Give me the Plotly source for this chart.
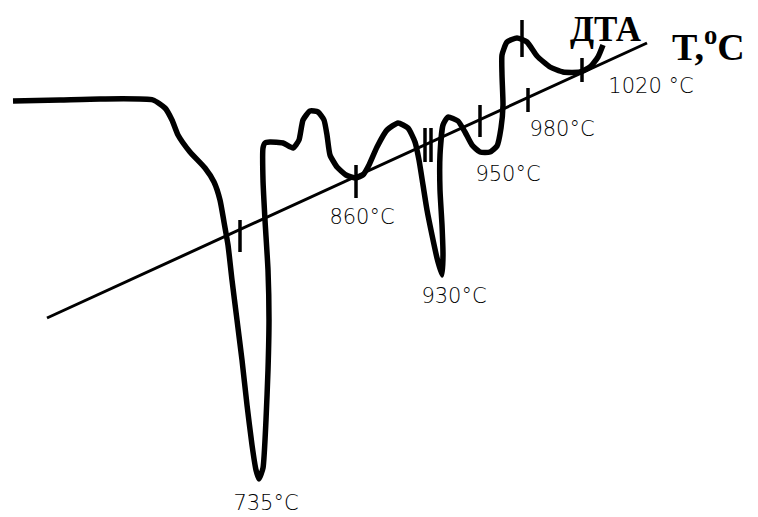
import plotly.graph_objects as go

# DTA curve (image pixel coordinates, y downwards)
curve_x = [13, 60, 100, 153, 165, 172, 178, 190, 205, 214, 220, 224, 228, 232, 237, 242, 247, 252, 256, 259,
           263, 266, 268, 269, 268, 265, 263, 263, 265, 270, 283, 293, 299, 303, 310, 318, 324, 327, 330, 337,
           346, 356, 363, 369, 377, 387, 398, 408, 415, 419, 423, 427, 432, 437, 442,
           443, 442, 440, 440, 443, 448, 458, 465, 472, 480, 490, 497, 501, 503, 502, 502, 507, 517, 527, 537,
           550, 563, 580, 590, 598, 603]
curve_y = [101, 100, 99, 100, 108, 120, 135, 152, 168, 182, 200, 222, 245, 280, 320, 360, 405, 445, 470, 479,
           468, 420, 370, 320, 270, 220, 180, 148, 143, 142, 143, 148, 140, 120, 111, 112, 120, 135, 155, 167,
           175, 178, 175, 165, 147, 130, 123, 128, 142, 160, 185, 210, 235, 258, 275,
           255, 225, 190, 155, 125, 117, 121, 132, 145, 152, 152, 146, 128, 105, 75, 55, 42, 38, 42, 56,
           67, 72, 72, 67, 57, 45]

# temperature axis line
axis_x = [47, 647]
axis_y = [318, 43]

# tick marks on the curve / axis
tick_x = [240, 356, 425, 431, 480, 522, 528, 582]
tick_y0 = [220, 165, 128, 128, 105, 20, 88, 58]
tick_y1 = [252, 198, 162, 162, 137, 57, 112, 82]

# temperature labels
label_text = ["735°C", "860°C", "930°C", "950°C", "980°C", "1020 °C"]
label_x = [266, 362, 454, 508, 562, 651]
label_y = [505, 219, 298, 176, 131, 88]

# page body margin offset (browser default 8px)
OFF = 8

fig = go.Figure()

fig.add_trace(go.Scatter(x=axis_x, y=axis_y, mode="lines",
                         line=dict(color="black", width=3), hoverinfo="skip"))

tx, ty = [], []
for x, a, b in zip(tick_x, tick_y0, tick_y1):
    tx += [x, x, None]
    ty += [a, b, None]
fig.add_trace(go.Scatter(x=tx, y=ty, mode="lines",
                         line=dict(color="black", width=3.5), hoverinfo="skip"))

fig.add_trace(go.Scatter(x=curve_x, y=curve_y, mode="lines",
                         line=dict(color="black", width=5.5, shape="spline", smoothing=0.5),
                         hoverinfo="skip"))

fig.add_trace(go.Scatter(x=label_x, y=label_y, mode="text", text=label_text,
                         textposition="middle center",
                         textfont=dict(family="DejaVu Sans", size=21, color="black", weight=300),
                         hoverinfo="skip"))

fig.add_annotation(x=606, y=OFF, yanchor="top", text="<b>ДТА</b>", showarrow=False,
                   font=dict(family="Liberation Serif", size=35, color="black"))
fig.add_annotation(x=708, y=44, text="<b>T,<sup>o</sup>C</b>", showarrow=False,
                   font=dict(family="Liberation Serif", size=38, color="black"))

fig.update_layout(
    width=758, height=517,
    margin=dict(l=0, r=0, t=0, b=0),
    paper_bgcolor="white", plot_bgcolor="white",
    showlegend=False,
    xaxis=dict(range=[OFF, 758 + OFF], visible=False, fixedrange=True),
    yaxis=dict(range=[517 + OFF, OFF], visible=False, fixedrange=True),
)

fig.write_html("out.html")
